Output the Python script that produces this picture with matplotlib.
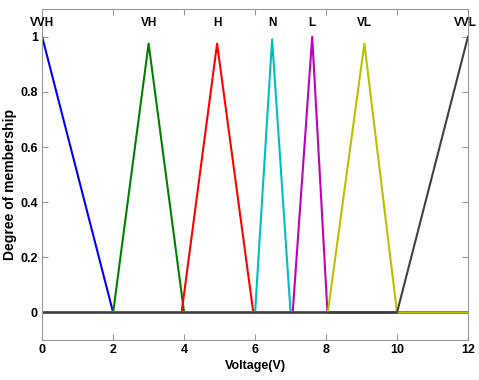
import matplotlib.pyplot as plt
from matplotlib import font_manager

names = {f.name for f in font_manager.fontManager.ttflist}
fam = 'Liberation Sans Narrow' if 'Liberation Sans Narrow' in names else 'Liberation Sans'
plt.rcParams['font.family'] = [fam, 'DejaVu Sans']
plt.rcParams['font.weight'] = 'bold'

labels = ['VVH', 'VH', 'H', 'N', 'L', 'VL', 'VVL']
xs = [
    [0, 2, 12],
    [0, 2, 3.0, 4, 12],
    [0, 3.93, 4.93, 5.95, 12],
    [0, 6.0, 6.48, 7.0, 12],
    [0, 7.06, 7.61, 8.04, 12],
    [0, 8.05, 9.08, 10.0, 12],
    [0, 10, 12],
]
ys = [
    [1, 0, 0],
    [0, 0, 0.975, 0, 0],
    [0, 0, 0.975, 0, 0],
    [0, 0, 0.99, 0, 0],
    [0, 0, 1.0, 0, 0],
    [0, 0, 0.975, 0, 0],
    [0, 0, 1],
]
colors = ['#0000ff', '#008000', '#ff0000', '#00bfbf', '#bf00bf', '#bfbf00', '#404040']
label_x = [0, 3.0, 4.93, 6.48, 7.61, 9.08, 11.92]

fig = plt.figure(figsize=(4.79, 3.8), dpi=100)
ax = fig.add_axes([0.088, 0.105, 0.889, 0.871])

for x, y, c in zip(xs, ys, colors):
    ax.plot(x, y, '-', color=c, linewidth=1.5)

for lab, lx in zip(labels, label_x):
    ax.text(lx, 1.05, lab, ha='center', va='center', fontsize=8.5, fontweight='bold')

ax.set_xlim(0, 12)
ax.set_ylim(-0.1, 1.1)
ax.set_xticks(range(0, 13, 2))
ax.set_yticks([0, 0.2, 0.4, 0.6, 0.8, 1])
ax.set_yticklabels(['0', '0.2', '0.4', '0.6', '0.8', '1'])
ax.tick_params(direction='in', top=True, right=True, length=4, color='#999999',
               labelsize=9, pad=3)
for s in ax.spines.values():
    s.set_color('#999999')
ax.set_xlabel('Voltage(V)', fontsize=9, fontweight='bold', labelpad=3)
ax.set_ylabel('Degree of membership', fontsize=10, fontweight='bold')
ax.yaxis.set_label_coords(-0.058, 0.47)

fig.savefig('out.png', dpi=100)
